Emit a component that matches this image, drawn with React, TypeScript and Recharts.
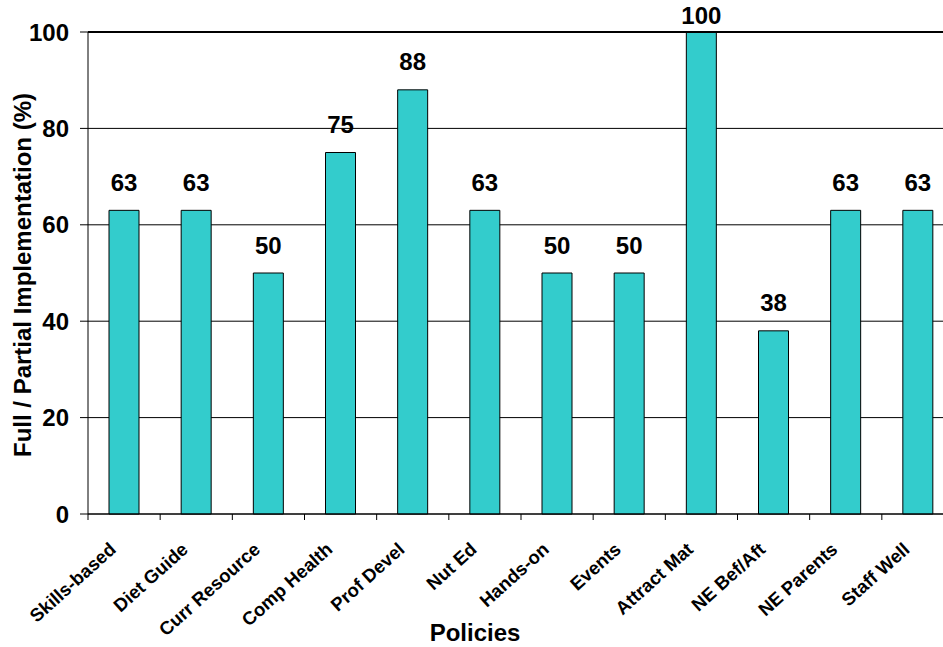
import { BarChart, Bar, XAxis, YAxis, CartesianGrid, LabelList, ReferenceLine } from 'recharts';

const categories = [
  'Skills-based',
  'Diet Guide',
  'Curr Resource',
  'Comp Health',
  'Prof Devel',
  'Nut Ed',
  'Hands-on',
  'Events',
  'Attract Mat',
  'NE Bef/Aft',
  'NE Parents',
  'Staff Well',
];
const values = [63, 63, 50, 75, 88, 63, 50, 50, 100, 38, 63, 63];
const yTicks = [0, 20, 40, 60, 80, 100];
const yTitle = 'Full / Partial Implementation (%)';
const xTitle = 'Policies';

const data = categories.map((name, i) => ({ name, value: values[i], pos: i + 0.5 }));
// boundary ticks between categories (Excel style)
const boundaryTicks = Array.from({ length: categories.length + 1 }, (_, i) => i);

const FONT = '"Liberation Sans", Arial, sans-serif';

const CategoryTick = ({ x, y, payload }: any) => (
  <g transform={`translate(${x - 7},${y + 36})`}>
    <text
      transform="rotate(-42)"
      textAnchor="end"
      fontFamily={FONT}
      fontWeight="bold"
      fontSize={18.5}
      fill="#000"
    >
      {payload.value}
    </text>
  </g>
);

const ValueLabel = ({ x, y, width, value }: any) => (
  <text
    x={x + width / 2}
    y={Math.max(y - 28, 15)}
    textAnchor="middle"
    dominantBaseline="central"
    fontFamily={FONT}
    fontWeight="bold"
    fontSize={24}
    fill="#000"
  >
    {value}
  </text>
);

export default function App() {
  return (
    <div
      style={{
        position: 'fixed',
        left: 0,
        top: 0,
        width: 943,
        height: 647,
        overflow: 'hidden',
        background: '#fff',
      }}
    >
      <BarChart
        width={960}
        height={647}
        data={data}
        margin={{ top: 32, right: 6, bottom: 0, left: 0 }}
      >
        <CartesianGrid xAxisId="b" vertical={false} stroke="#000" strokeWidth={1} />
        {/* tick marks only, sitting on the category boundaries */}
        <XAxis
          xAxisId="a"
          dataKey="pos"
          type="number"
          domain={[0, categories.length]}
          ticks={boundaryTicks}
          interval={0}
          allowDataOverflow
          height={1}
          tick={() => <g />}
          tickSize={6}
          tickLine={{ stroke: '#000' }}
          stroke="#000"
        />
        <XAxis
          xAxisId="b"
          dataKey="name"
          height={132}
          axisLine={false}
          tickLine={false}
          tickSize={0}
          tickMargin={0}
          interval={0}
          tick={<CategoryTick />}
          label={{
            content: () => (
              <text
                x={475}
                y={641}
                textAnchor="middle"
                fontFamily={FONT}
                fontWeight="bold"
                fontSize={24}
                fill="#000"
              >
                {xTitle}
              </text>
            ),
          }}
        />
        <YAxis
          width={88}
          domain={[0, 100]}
          ticks={yTicks}
          interval={0}
          tickSize={8}
          tickMargin={11}
          stroke="#000"
          tick={{ fontFamily: FONT, fontWeight: 'bold', fontSize: 24, fill: '#000' }}
          label={{
            content: (props: any) => {
              const vb = props.viewBox;
              const cx = 22;
              const cy = vb.y + vb.height / 2 + 2;
              return (
                <text
                  x={cx}
                  y={cy}
                  transform={`rotate(-90 ${cx} ${cy})`}
                  textAnchor="middle"
                  dominantBaseline="central"
                  fontFamily={FONT}
                  fontWeight="bold"
                  fontSize={24}
                  fill="#000"
                >
                  {yTitle}
                </text>
              );
            },
          }}
        />
        <ReferenceLine xAxisId="b" y={100} stroke="#000" strokeWidth={2} />
        <Bar
          xAxisId="b"
          dataKey="value"
          barSize={30}
          fill="#33CCCC"
          stroke="#000"
          strokeWidth={1}
          isAnimationActive={false}
        >
          <LabelList dataKey="value" content={<ValueLabel />} />
        </Bar>
      </BarChart>
    </div>
  );
}
